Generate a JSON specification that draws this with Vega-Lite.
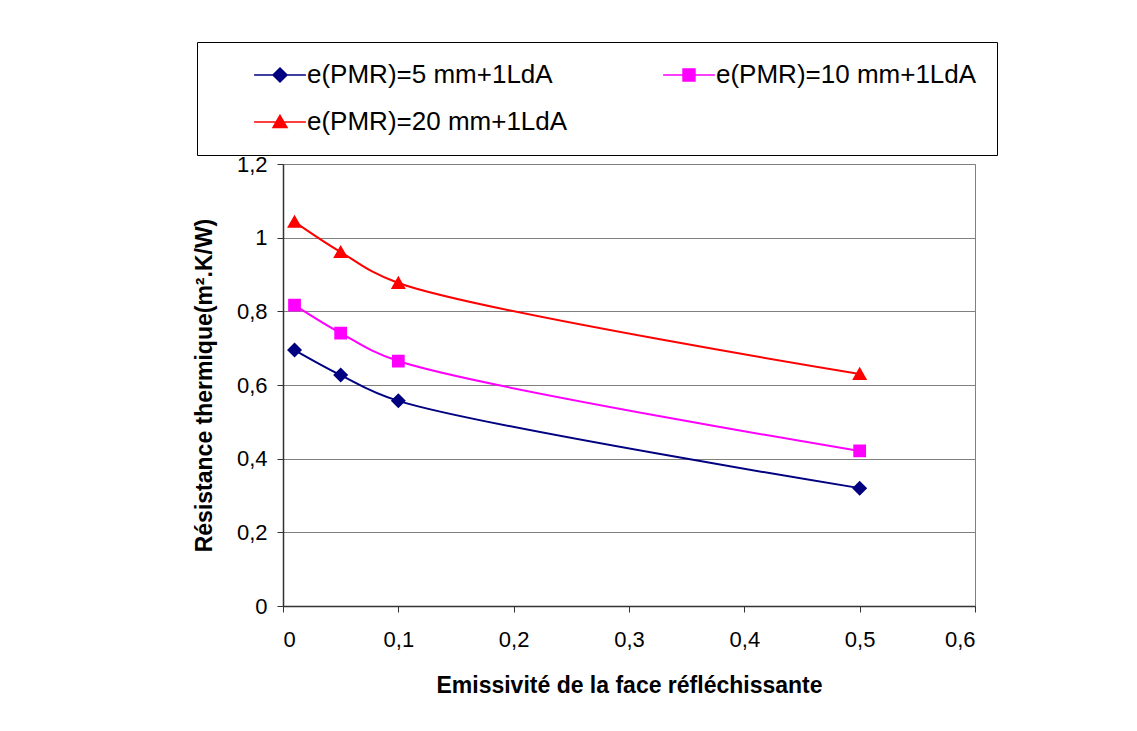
{
  "$schema": "https://vega.github.io/schema/vega-lite/v6.json",
  "width": 692,
  "height": 442,
  "autosize": "none",
  "padding": {"left": 283, "top": 164, "right": 162, "bottom": 125},
  "background": "white",
  "config": {
    "font": "Liberation Sans",
    "view": {"stroke": "#808080", "strokeWidth": 1}
  },
  "data": {
    "values": [
      {"serie": "e(PMR)=5 mm+1LdA", "emissivite": 0.01, "resistance": 0.695},
      {"serie": "e(PMR)=5 mm+1LdA", "emissivite": 0.05, "resistance": 0.627},
      {"serie": "e(PMR)=5 mm+1LdA", "emissivite": 0.1, "resistance": 0.557},
      {"serie": "e(PMR)=5 mm+1LdA", "emissivite": 0.5, "resistance": 0.32},
      {"serie": "e(PMR)=10 mm+1LdA", "emissivite": 0.01, "resistance": 0.817},
      {"serie": "e(PMR)=10 mm+1LdA", "emissivite": 0.05, "resistance": 0.741},
      {"serie": "e(PMR)=10 mm+1LdA", "emissivite": 0.1, "resistance": 0.665},
      {"serie": "e(PMR)=10 mm+1LdA", "emissivite": 0.5, "resistance": 0.421},
      {"serie": "e(PMR)=20 mm+1LdA", "emissivite": 0.01, "resistance": 1.043},
      {"serie": "e(PMR)=20 mm+1LdA", "emissivite": 0.05, "resistance": 0.961},
      {"serie": "e(PMR)=20 mm+1LdA", "emissivite": 0.1, "resistance": 0.877},
      {"serie": "e(PMR)=20 mm+1LdA", "emissivite": 0.5, "resistance": 0.63}
    ]
  },
  "encoding": {
    "x": {
      "field": "emissivite",
      "type": "quantitative",
      "scale": {"domain": [0, 0.6], "nice": false, "zero": false},
      "axis": {
        "title": "Emissivité de la face réfléchissante",
        "values": [0, 0.1, 0.2, 0.3, 0.4, 0.5, 0.6],
        "labelExpr": "replace(toString(datum.value), '.', ',')",
        "grid": false,
        "domainColor": "#333333",
        "domainWidth": 1.5,
        "tickColor": "#333333",
        "tickSize": 6,
        "labelFontSize": 22,
        "labelColor": "black",
        "labelPadding": 17,
        "titleFontSize": 23,
        "titleFontWeight": "bold",
        "titleColor": "black",
        "titlePadding": 24
      }
    },
    "y": {
      "field": "resistance",
      "type": "quantitative",
      "scale": {"domain": [0, 1.2], "nice": false},
      "axis": {
        "title": "Résistance thermique(m².K/W)",
        "values": [0, 0.2, 0.4, 0.6, 0.8, 1, 1.2],
        "labelExpr": "replace(toString(datum.value), '.', ',')",
        "grid": true,
        "gridColor": "#808080",
        "gridWidth": 1,
        "domainColor": "#333333",
        "domainWidth": 1.5,
        "tickColor": "#333333",
        "tickSize": 6,
        "labelFontSize": 22,
        "labelColor": "black",
        "labelPadding": 10,
        "titleFontSize": 23,
        "titleFontWeight": "bold",
        "titleColor": "black",
        "titlePadding": 20
      }
    }
  },
  "layer": [
    {
      "mark": {"type": "line", "interpolate": "catmull-rom", "strokeWidth": 2},
      "encoding": {
        "color": {
          "field": "serie",
          "type": "nominal",
          "scale": {
            "domain": ["e(PMR)=5 mm+1LdA", "e(PMR)=10 mm+1LdA", "e(PMR)=20 mm+1LdA"],
            "range": ["#000080", "#FF00FF", "#FF0000"]
          }
        }
      }
    },
    {
      "mark": {"type": "point", "filled": true, "size": 225, "opacity": 1},
      "encoding": {
        "color": {
          "field": "serie",
          "type": "nominal",
          "scale": {
            "domain": ["e(PMR)=5 mm+1LdA", "e(PMR)=10 mm+1LdA", "e(PMR)=20 mm+1LdA"],
            "range": ["#000080", "#FF00FF", "#FF0000"]
          },
          "legend": {
            "title": null,
            "orient": "none",
            "legendX": -86,
            "legendY": -122,
            "direction": "horizontal",
            "columns": 2,
            "padding": 20,
            "strokeColor": "black",
            "fillColor": "white",
            "labelFontSize": 26,
            "labelFont": "Liberation Sans",
            "labelColor": "black",
            "labelLimit": 500,
            "symbolSize": 196,
            "symbolOffset": 50,
            "labelOffset": 14,
            "rowPadding": 21,
            "columnPadding": 58,
            "encode": {
              "symbols": {
                "update": {
                  "fill": {"scale": "color", "field": "value"},
                  "stroke": {"scale": "color", "field": "value"},
                  "strokeWidth": {"value": 1.5},
                  "opacity": {"value": 1}
                }
              }
            }
          }
        },
        "shape": {
          "field": "serie",
          "type": "nominal",
          "scale": {
            "domain": ["e(PMR)=5 mm+1LdA", "e(PMR)=10 mm+1LdA", "e(PMR)=20 mm+1LdA"],
            "range": [
              "M0,-1L1,0L0,1L-1,0Z M-3.7,0H3.7",
              "M-0.85,-0.85H0.85V0.85H-0.85Z M-3.7,0H3.7",
              "M0,-0.95L1,0.8L-1,0.8Z M-3.7,0H3.7"
            ]
          },
          "legend": {
            "title": null,
            "orient": "none",
            "legendX": -86,
            "legendY": -122,
            "direction": "horizontal",
            "columns": 2,
            "padding": 20,
            "strokeColor": "black",
            "fillColor": "white",
            "labelFontSize": 26,
            "labelFont": "Liberation Sans",
            "labelColor": "black",
            "labelLimit": 500,
            "symbolSize": 196,
            "symbolOffset": 50,
            "labelOffset": 14,
            "rowPadding": 21,
            "columnPadding": 58
          }
        }
      }
    }
  ]
}
